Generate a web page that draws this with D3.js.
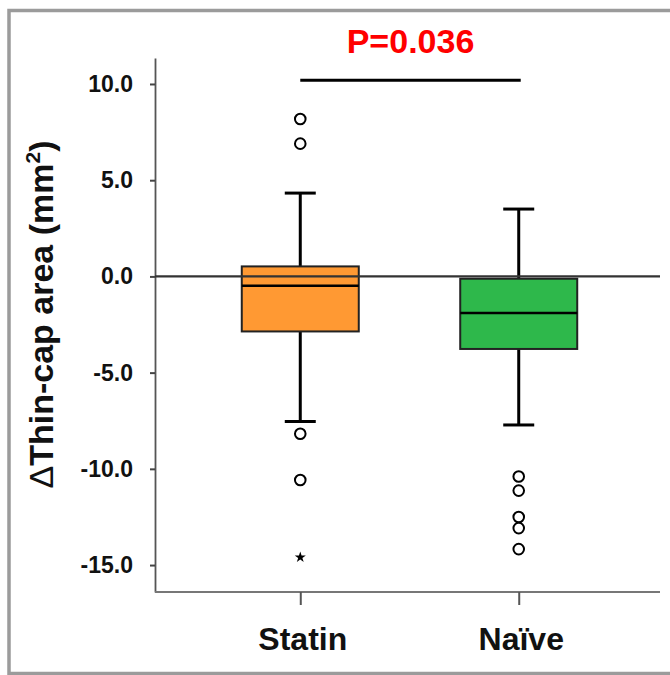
<!DOCTYPE html>
<html>
<head>
<meta charset="utf-8">
<script src="https://cdn.jsdelivr.net/npm/d3@7"></script>
<style>
  html, body { margin: 0; padding: 0; background: #fff; }
  svg text { font-family: "Liberation Sans", Arial, sans-serif; font-weight: bold; }
</style>
</head>
<body>
<svg id="chart" width="670" height="675"></svg>
<script>
// ---- data ----
const categories = ["Statin", "Naïve"];
const boxColors = ["#FF9933", "#2EB84B"];
const q1 = [-2.86, -3.77];
const medians = [-0.48, -1.90];
const q3 = [0.52, -0.12];
const whiskerLow = [-7.54, -7.72];
const whiskerHigh = [4.33, 3.50];
const outlierGroup = ["Statin", "Statin", "Statin", "Statin", "Naïve", "Naïve", "Naïve", "Naïve", "Naïve"];
const outlierValues = [8.18, 6.90, -8.18, -10.58, -10.40, -11.13, -12.50, -13.08, -14.17];
const extremeGroup = ["Statin"];
const extremeValues = [-14.60];
const yTicks = [10, 5, 0, -5, -10, -15];
const yDomain = [-16.4, 11.35];
const sigValue = 10.2;
const pLabel = "P=0.036";

// ---- layout ----
const svg = d3.select("#chart");
const plotLeft = 155, plotRight = 660, plotTop = 58, plotBottom = 592;

const x = d3.scalePoint().domain(categories).range([plotLeft, plotRight + 4]).padding(0.665);
const y = d3.scaleLinear().domain(yDomain).range([plotBottom, plotTop]);
const boxW = 117, capW = 31;
const fmt = d => d3.format(".1f")(d).replace("\u2212", "-");

// frame
svg.append("rect").attr("x", 9).attr("y", 10.5).attr("width", 700).attr("height", 663)
  .attr("fill", "none").attr("stroke", "#9b9b9b").attr("stroke-width", 3.5);

// y axis
const yAxis = svg.append("g").attr("transform", `translate(${plotLeft},0)`)
  .call(d3.axisLeft(y).tickValues(yTicks).tickFormat(fmt).tickSize(5).tickPadding(17).tickSizeOuter(0));
yAxis.select(".domain").attr("stroke", "#555").attr("stroke-width", 1.8);
yAxis.selectAll(".tick line").attr("stroke", "#444").attr("stroke-width", 2);
yAxis.selectAll(".tick text").attr("font-size", 23).attr("fill", "#111")
  .style("font-family", "'Liberation Sans', Arial, sans-serif").style("font-weight", "bold");

// x axis
const xAxisG = svg.append("g").attr("transform", `translate(0,${plotBottom})`)
  .call(d3.axisBottom(x).tickSize(13).tickPadding(22).tickSizeOuter(0));
xAxisG.select(".domain").attr("d", `M${plotLeft},0H${plotRight}`).attr("stroke", "#777").attr("stroke-width", 2);
xAxisG.selectAll(".tick line").attr("stroke", "#555").attr("stroke-width", 2);
xAxisG.selectAll(".tick text").attr("font-size", 32).attr("fill", "#111").attr("dx", 2)
  .style("font-family", "'Liberation Sans', Arial, sans-serif").style("font-weight", "bold");

// y axis label
const yl = svg.append("text")
  .attr("transform", `translate(53,${(137 + 492) / 2}) rotate(-90)`)
  .attr("text-anchor", "middle").attr("font-size", 34).attr("fill", "#111");
yl.append("tspan").text("Δ").style("font-weight", "normal");
yl.append("tspan").text("Thin-cap area (mm");
yl.append("tspan").text("2").attr("font-size", 21).attr("dy", -13);
yl.append("tspan").text(")").attr("dy", 13);

// boxes
const idx = d3.range(categories.length);
const g = svg.append("g");
// whiskers
idx.forEach(i => {
  const cx = x(categories[i]);
  g.append("line").attr("x1", cx).attr("x2", cx).attr("y1", y(q3[i])).attr("y2", y(whiskerHigh[i]))
    .attr("stroke", "#000").attr("stroke-width", 3);
  g.append("line").attr("x1", cx).attr("x2", cx).attr("y1", y(q1[i])).attr("y2", y(whiskerLow[i]))
    .attr("stroke", "#000").attr("stroke-width", 3);
  g.append("line").attr("x1", cx - capW / 2).attr("x2", cx + capW / 2).attr("y1", y(whiskerHigh[i])).attr("y2", y(whiskerHigh[i]))
    .attr("stroke", "#000").attr("stroke-width", 3);
  g.append("line").attr("x1", cx - capW / 2).attr("x2", cx + capW / 2).attr("y1", y(whiskerLow[i])).attr("y2", y(whiskerLow[i]))
    .attr("stroke", "#000").attr("stroke-width", 3);
});
g.selectAll("rect.box").data(idx).join("rect").attr("class", "box")
  .attr("x", i => x(categories[i]) - boxW / 2).attr("width", boxW)
  .attr("y", i => y(q3[i])).attr("height", i => y(q1[i]) - y(q3[i]))
  .attr("fill", i => boxColors[i]).attr("stroke", "#222").attr("stroke-width", 2);

// zero reference line
svg.append("line").attr("x1", plotLeft).attr("x2", plotRight).attr("y1", y(0)).attr("y2", y(0))
  .attr("stroke", "#333").attr("stroke-width", 2.2);

// medians
g.selectAll("line.med").data(idx).join("line").attr("class", "med")
  .attr("x1", i => x(categories[i]) - boxW / 2).attr("x2", i => x(categories[i]) + boxW / 2)
  .attr("y1", i => y(medians[i])).attr("y2", i => y(medians[i]))
  .attr("stroke", "#000").attr("stroke-width", 2.5);

// outliers
svg.selectAll("circle.out").data(outlierValues).join("circle").attr("class", "out")
  .attr("cx", (d, i) => x(outlierGroup[i])).attr("cy", d => y(d)).attr("r", 5.3)
  .attr("fill", "#fff").attr("stroke", "#000").attr("stroke-width", 2);

// extreme values
svg.selectAll("path.ext").data(extremeValues).join("path").attr("class", "ext")
  .attr("transform", (d, i) => `translate(${x(extremeGroup[i])},${y(d)})`)
  .attr("d", d3.symbol(d3.symbolStar, 38)).attr("fill", "#000");

// significance bar
svg.append("line").attr("x1", x("Statin")).attr("x2", x("Naïve") + 2)
  .attr("y1", y(sigValue)).attr("y2", y(sigValue)).attr("stroke", "#000").attr("stroke-width", 3);
svg.append("text").attr("x", (x("Statin") + x("Naïve")) / 2 + 1).attr("y", 53)
  .attr("text-anchor", "middle").attr("font-size", 34).attr("fill", "#FF0000").text(pLabel);
</script>
</body>
</html>
